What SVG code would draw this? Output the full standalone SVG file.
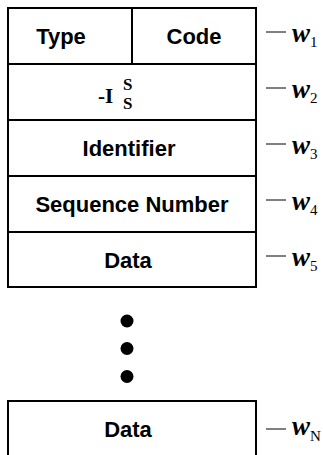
<svg xmlns="http://www.w3.org/2000/svg" width="323" height="455" viewBox="0 0 323 455">
<style>
.box{fill:#fff;stroke:#000;stroke-width:2}
.lbl{font-family:"Liberation Sans",Arial,sans-serif;font-weight:bold;font-size:22px;text-anchor:middle;fill:#000}
.ser{font-family:"Liberation Serif","Times New Roman",serif;font-weight:bold;fill:#000}
.w{font-family:"Liberation Serif","Times New Roman",serif;font-weight:bold;font-style:italic;font-size:27px;fill:#000}
.sub{font-family:"Liberation Serif","Times New Roman",serif;font-size:15px;fill:#000}
.lead{stroke:#000;stroke-width:1}
</style>
<rect width="323" height="455" fill="#fff"/>
<g id="word1">
<rect class="box" x="8" y="8" width="248" height="56"/>
<line x1="132" y1="8" x2="132" y2="64" stroke="#000" stroke-width="2"/>
<text class="lbl" x="61" y="44">Type</text>
<text class="lbl" x="194" y="44">Code</text>
</g>
<g id="word2">
<rect class="box" x="8" y="64" width="248" height="56"/>
<text class="ser" x="98" y="103" font-size="21">-I</text>
<text class="ser" x="123" y="90" font-size="17">S</text>
<text class="ser" x="123" y="109" font-size="17">S</text>
</g>
<g id="word3">
<rect class="box" x="8" y="120" width="248" height="56"/>
<text class="lbl" x="129" y="156">Identifier</text>
</g>
<g id="word4">
<rect class="box" x="8" y="176" width="248" height="56"/>
<text class="lbl" x="132" y="212">Sequence Number</text>
</g>
<g id="word5">
<rect class="box" x="8" y="232" width="248" height="55"/>
<text class="lbl" x="128" y="268">Data</text>
</g>
<g id="ellipsis">
<circle cx="127" cy="321" r="6.5"/>
<circle cx="127" cy="348.5" r="6.5"/>
<circle cx="127" cy="376.5" r="6.5"/>
</g>
<g id="wordN">
<rect class="box" x="8" y="401" width="248" height="60"/>
<text class="lbl" x="128" y="437">Data</text>
</g>
<g id="connectors">
<line class="lead" x1="266" y1="32" x2="286" y2="32"/>
<line class="lead" x1="266" y1="88" x2="286" y2="88"/>
<line class="lead" x1="266" y1="144" x2="286" y2="144"/>
<line class="lead" x1="266" y1="200" x2="286" y2="200"/>
<line class="lead" x1="266" y1="256" x2="286" y2="256"/>
<line class="lead" x1="266" y1="429" x2="286" y2="429"/>
</g>
<g id="labels">
<text x="292" y="42"><tspan class="w">w</tspan><tspan class="sub" dy="5">1</tspan></text>
<text x="292" y="98"><tspan class="w">w</tspan><tspan class="sub" dy="5">2</tspan></text>
<text x="292" y="154"><tspan class="w">w</tspan><tspan class="sub" dy="5">3</tspan></text>
<text x="292" y="210"><tspan class="w">w</tspan><tspan class="sub" dy="5">4</tspan></text>
<text x="292" y="266"><tspan class="w">w</tspan><tspan class="sub" dy="5">5</tspan></text>
<text x="292" y="435"><tspan class="w">w</tspan><tspan class="sub" dy="6">N</tspan></text>
</g>
</svg>
